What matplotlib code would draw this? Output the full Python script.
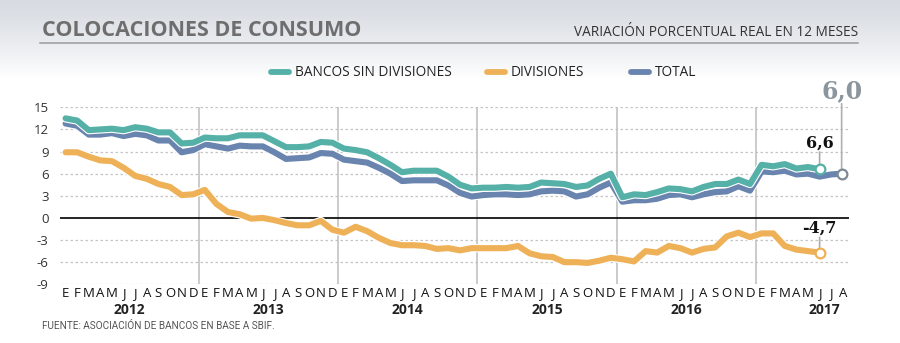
import numpy as np
import matplotlib
matplotlib.use("Agg")
import matplotlib.pyplot as plt
import matplotlib.patheffects as pe
import matplotlib.transforms as mtransforms
from matplotlib.lines import Line2D

# ---- data ----
month_letters = ["E", "F", "M", "A", "M", "J", "J", "A", "S", "O", "N", "D"]
years = ["2012", "2013", "2014", "2015", "2016", "2017"]

bancos_sin_div = [13.5, 13.2, 11.9, 12.0, 12.1, 11.9, 12.3, 12.1, 11.6, 11.6, 10.1, 10.2,
                  10.9, 10.8, 10.8, 11.2, 11.2, 11.2, 10.4, 9.6, 9.6, 9.7, 10.3, 10.2,
                  9.4, 9.2, 8.9, 8.1, 7.2, 6.2, 6.4, 6.4, 6.4, 5.6, 4.5, 4.0,
                  4.1, 4.1, 4.2, 4.1, 4.2, 4.8, 4.7, 4.6, 4.2, 4.4, 5.3, 6.0,
                  2.8, 3.2, 3.1, 3.5, 4.0, 3.9, 3.6, 4.2, 4.6, 4.6, 5.2, 4.6,
                  7.2, 7.0, 7.3, 6.7, 6.9, 6.6]
divisiones = [8.9, 8.9, 8.3, 7.8, 7.7, 6.8, 5.7, 5.3, 4.6, 4.2, 3.1, 3.2,
              3.8, 1.9, 0.8, 0.5, -0.1, 0.0, -0.3, -0.7, -1.0, -1.0, -0.4, -1.6,
              -2.0, -1.2, -1.8, -2.7, -3.4, -3.7, -3.7, -3.8, -4.2, -4.1, -4.4, -4.1,
              -4.1, -4.1, -4.1, -3.8, -4.8, -5.2, -5.3, -6.0, -6.0, -6.1, -5.8, -5.4,
              -5.6, -5.9, -4.5, -4.7, -3.8, -4.1, -4.7, -4.2, -4.0, -2.5, -2.0, -2.6,
              -2.1, -2.1, -3.8, -4.3, -4.5, -4.7]
total = [12.8, 12.5, 11.3, 11.3, 11.5, 11.1, 11.4, 11.2, 10.5, 10.5, 8.9, 9.2,
         10.0, 9.7, 9.4, 9.8, 9.7, 9.7, 8.9, 8.0, 8.1, 8.2, 8.8, 8.7,
         7.9, 7.7, 7.5, 6.8, 6.0, 5.0, 5.1, 5.1, 5.1, 4.4, 3.4, 2.9,
         3.1, 3.2, 3.2, 3.1, 3.2, 3.6, 3.7, 3.6, 2.9, 3.2, 4.1, 4.8,
         2.2, 2.4, 2.4, 2.6, 3.1, 3.2, 2.8, 3.2, 3.5, 3.6, 4.3, 3.7,
         6.3, 6.2, 6.4, 5.9, 6.0, 5.6, 5.9, 6.0]
yticks = [-9, -6, -3, 0, 3, 6, 9, 12, 15]
labels_end = {"bancos": "6,6", "divisiones": "-4,7", "total": "6,0"}
legend_names = ["BANCOS SIN DIVISIONES", "DIVISIONES", "TOTAL"]

C_TEAL = "#55b0a7"
C_ORANGE = "#eeb157"
C_BLUE = "#6984ae"
FONT = "Open Sans"

W, H = 900, 343
fig = plt.figure(figsize=(W / 100, H / 100), dpi=100)

def fx(x):
    return x / W

def fy(y):
    return 1 - y / H

# background gradient
bg = fig.add_axes([0, 0, 1, 1], zorder=-10)
grad = np.ones((H, 1, 3))
top = np.array([0xd8, 0xdc, 0xe2]) / 255
white = np.array([1.0, 1.0, 1.0])
for r in range(H):
    if r < 78:
        t = (r / 78) ** 1.3
        grad[r, 0] = top * (1 - t) + white * t
bg.imshow(grad, aspect="auto", extent=[0, 1, 0, 1], interpolation="bilinear")
bg.set_axis_off()

# main axes
x0, x1 = 59.8, 848.6
ytop, ybot = 107.3, 284.3
ax = fig.add_axes([fx(x0), fy(ybot), (x1 - x0) / W, (ybot - ytop) / H])
ax.set_facecolor("none")
ax.set_xlim(-0.5, 67.5)
ax.set_ylim(-9, 15)
for s in ax.spines.values():
    s.set_visible(False)

for v in yticks:
    if v == 0:
        ax.axhline(0, color="black", lw=1.2, zorder=2)
    else:
        ax.axhline(v, color="#c4c4c4", lw=0.9, ls=(0, (2, 2)), zorder=1)

for k in range(1, 6):
    ax.axvline(12 * k - 0.5, color="#bdbdbd", lw=1.1, zorder=1)

ax.set_yticks(yticks)
ax.set_yticklabels([str(v) for v in yticks], fontfamily=FONT, fontsize=9.5, color="#333333")
ax.tick_params(axis="y", length=0, pad=8)

n_total = len(total)
month_idx = np.arange(n_total)
ax.set_xticks(month_idx)
ax.set_xticklabels([month_letters[i % 12] for i in month_idx], fontfamily=FONT,
                   fontsize=9.5, color="#111111")
ax.tick_params(axis="x", length=0, pad=2)

year_tr = ax.transData + mtransforms.ScaledTranslation(0, -19 / 100, fig.dpi_scale_trans)
for k, yr in enumerate(years):
    xc = 12 * k + (5.5 if k < 5 else 5.4)
    ax.text(xc, -9, yr, transform=year_tr, ha="center", va="top",
            fontfamily=FONT, fontweight="bold", fontsize=10, color="#222222")

lw = 4.4
stroke = [pe.Stroke(linewidth=lw + 1.6, foreground="white"), pe.Normal()]
ax.plot(np.arange(len(divisiones)), divisiones, color=C_ORANGE, lw=lw,
        solid_joinstyle="round", solid_capstyle="round", path_effects=stroke, zorder=3, clip_on=False)
ax.plot(np.arange(len(total)), total, color=C_BLUE, lw=lw,
        solid_joinstyle="round", solid_capstyle="round", path_effects=stroke, zorder=4, clip_on=False)
ax.plot(np.arange(len(bancos_sin_div)), bancos_sin_div, color=C_TEAL, lw=lw,
        solid_joinstyle="round", solid_capstyle="round", path_effects=stroke, zorder=5, clip_on=False)

# end markers and labels
def end_label(xv, yv, color, text, dy_px, fsize, tcolor, lcolor):
    ax.plot([xv], [yv], marker="o", ms=7, mfc="white", mec=color, mew=1.6, zorder=7, clip_on=False)
    ax.annotate("", xy=(xv, yv), xytext=(0, dy_px * 0.72 - fsize * 0.55), textcoords="offset points",
                arrowprops=dict(arrowstyle="-", color=lcolor, lw=1.2, shrinkA=0, shrinkB=3.5),
                zorder=6)
    ax.annotate(text, xy=(xv, yv), xytext=(0, dy_px * 0.72), textcoords="offset points",
                ha="center", va="center", fontsize=fsize, fontweight="bold",
                fontfamily="DejaVu Serif", color=tcolor, zorder=8, annotation_clip=False)

ib = len(bancos_sin_div) - 1
end_label(ib, bancos_sin_div[ib], C_TEAL, labels_end["bancos"], 26, 11.5, "#111111", "#aaaaaa")
idv = len(divisiones) - 1
end_label(idv, divisiones[idv], C_ORANGE, labels_end["divisiones"], 24, 11.5, "#111111", "#aaaaaa")
it = len(total) - 1
end_label(it - 0.1, total[it], "#7d8a95", labels_end["total"], 83, 17, "#8b959d", "#b0b0b0")

# title and header
fig.text(fx(42), fy(30), "COLOCACIONES DE CONSUMO", fontfamily=FONT, fontweight="bold",
         fontsize=15.5, color="#6e6e6e", ha="left", va="center")
fig.add_artist(Line2D([fx(40), fx(858)], [fy(43), fy(43)], color="#9a9a9a", lw=1.1))
fig.text(fx(858), fy(33), "VARIACIÓN PORCENTUAL REAL EN 12 MESES", fontfamily=FONT,
         fontsize=9.8, color="#333333", ha="right", va="center")

# legend
leg_items = [(269, 291, 295, C_TEAL), (485, 507, 511, C_ORANGE), (629, 651, 655, C_BLUE)]
for (sx0, sx1, tx, c), name in zip(leg_items, legend_names):
    fig.add_artist(Line2D([fx(sx0 + 2), fx(sx1 - 2)], [fy(72), fy(72)], color=c, lw=4.2,
                          solid_capstyle="round"))
    fig.text(fx(tx), fy(72), name, fontfamily=FONT, fontsize=9.8, color="#222222",
             ha="left", va="center")

fig.text(fx(42), fy(326), "FUENTE: ASOCIACIÓN DE BANCOS EN BASE A SBIF.", fontfamily="Roboto",
         fontsize=7.2, color="#555555", ha="left", va="center")

fig.savefig("out.png", dpi=100)
